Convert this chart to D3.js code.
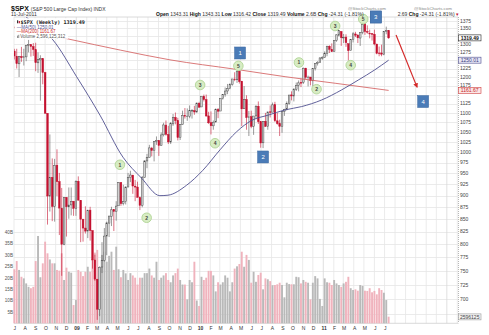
<!DOCTYPE html>
<html><head><meta charset="utf-8">
<script src="https://cdn.jsdelivr.net/npm/d3@7"></script>
<style>body{margin:0;background:#fff}svg{display:block;font-family:"Liberation Sans",Arial,sans-serif}</style>
</head><body><svg id="c" width="489" height="335"></svg>
<script>
// ---------- DATA (weekly $SPX, Jun 30 2008 .. Jul 11 2011) ----------
const firstWeek = "2008-06-30", lastWeek = "2011-07-11";
const open = [
1278,1262,1239,1261,1258,1260,1296,1298,1292,1282,1242,1251,1255,1213,1099,899,941,877,969,931,873,800,896,876,880,888,873,
932,890,850,832,826,869,827,770,735,683,757,769,816,842,856,870,866,878,929,883,887,919,940,946,921,919,896,879,940,979,987,1010,1004,1026,1029,1016,1043,1068,1044,1025,1071,1088,1080,1036,1069,1093,1091,1091,1106,1106,1102,1126,
1116,1145,1136,1092,1074,1066,1076,1109,1105,1139,1150,1160,1167,1178,1194,1192,1217,1188,1111,1136,1088,1090,1065,1092,1118,1077,1023,1078,1065,1103,1102,1122,1079,1072,1064,1104,1110,1126,1149,1146,1165,1176,1184,1185,1226,1199,1200,1189,1225,1240,1244,1257,
1258,1271,1293,1283,1276,1311,1328,1340,1321,1322,1301,1280,1314,1332,1329,1319,1337,1365,1340,1334,1333,1331,1300,1272,1272,1268,1340,1343.31];
const high = [
1285,1285,1263,1291,1285,1297,1313,1300,1303,1304,1274,1265,1255,1215,1099,1044,985,984,1007,951,917,896,897,918,918,888,934,
943,890,851,877,870,876,827,780,735,758,804,832,845,857,876,871,888,930,930,924,920,951,956,946,935,931,898,944,980,996,1018,1013,1027,1039,1029,1049,1074,1080,1066,1076,1097,1101,1087,1071,1106,1113,1112,1120,1110,1119,1128,1130,
1145,1150,1150,1103,1104,1080,1112,1113,1139,1151,1170,1180,1182,1194,1214,1218,1219,1188,1174,1148,1105,1106,1092,1121,1131,1078,1078,1100,1103,1120,1128,1130,1100,1082,1105,1111,1131,1149,1159,1168,1184,1190,1196,1228,1227,1204,1200,1225,1241,1247,1259,1262,
1277,1294,1296,1302,1311,1331,1344,1340,1332,1331,1301,1316,1338,1339,1329,1338,1364,1370,1360,1346,1334,1346,1300,1292,1298,1341,1356,1343.31];
const low = [
1252,1225,1200,1245,1234,1247,1274,1261,1263,1217,1212,1133,1179,1097,839,866,846,845,899,818,741,798,815,851,858,857,857,
889,804,805,821,812,807,754,732,666,672,746,767,779,814,836,826,847,878,878,879,881,919,930,904,888,896,869,875,940,962,987,990,978,1018,991,1016,1039,1041,1020,1020,1066,1070,1029,1030,1069,1085,1079,1086,1085,1095,1102,1115,
1116,1131,1090,1071,1044,1056,1075,1086,1105,1136,1144,1151,1165,1175,1188,1183,1181,1065,1111,1056,1040,1060,1043,1083,1071,1011,1010,1063,1056,1088,1102,1076,1069,1040,1048,1092,1107,1122,1134,1131,1160,1159,1171,1180,1194,1173,1176,1174,1219,1234,1242,1251,
1257,1262,1272,1275,1276,1307,1324,1294,1303,1291,1249,1280,1305,1322,1303,1294,1331,1329,1333,1318,1311,1296,1268,1262,1262,1265,1331,1316.42];
const close = [
1262.9,1239.49,1260.68,1257.76,1260.31,1296.32,1298.2,1292.2,1282.83,1242.31,1251.7,1255.08,1213.27,1099.23,899.22,940.55,876.77,968.75,930.99,873.29,800.03,896.24,876.07,879.73,887.88,872.8,931.8,
890.35,850.12,831.95,825.88,868.6,826.84,770.05,735.09,683.38,756.55,768.54,815.94,842.5,856.56,869.6,866.23,877.52,929.23,882.88,887,919.14,940.09,946.21,921.23,918.9,896.42,879.13,940.38,979.26,987.48,1010.48,1004.09,1026.13,1028.93,1016.4,1042.73,1068.3,1044.38,1025.21,1071.49,1087.68,1079.6,1036.19,1069.3,1093.48,1091.38,1091.49,1105.98,1106.41,1102.47,1126.48,1115.1,
1144.98,1136.03,1091.76,1073.87,1066.19,1075.51,1109.17,1104.49,1138.7,1149.99,1159.9,1166.59,1178.1,1194.37,1192.13,1217.28,1186.69,1110.88,1135.68,1087.69,1089.41,1064.88,1091.6,1117.51,1076.76,1022.58,1077.96,1064.88,1102.66,1101.6,1121.64,1079.25,1071.69,1064.59,1104.51,1109.55,1125.59,1148.67,1146.24,1165.15,1176.19,1183.08,1183.26,1225.85,1199.21,1199.73,1189.4,1224.71,1240.4,1243.91,1256.77,1257.64,
1271.5,1293.24,1283.35,1276.34,1310.87,1329.15,1343.01,1319.88,1321.15,1304.28,1279.21,1313.8,1332.41,1328.17,1319.68,1337.38,1363.61,1340.2,1337.77,1333.27,1331.1,1300.16,1270.98,1271.5,1268.45,1339.67,1343.8,1319.49];
// volume in billions of shares
const volume = [
23.7,27.3,23.4,20.4,19.7,17.5,16,15.4,16,27.3,38.3,20.2,26.3,35.8,30.7,28,26.3,26.3,23.4,23.1,30.7,19,24.4,22.6,22.2,8,10.2,
23.4,22.6,20.7,22.6,24.8,22.6,28,31,32.2,24.8,30,31.4,27,29.6,31.4,23.4,33.6,23.7,20.2,23.4,21.9,19,22,21,20,17,20,20,22,22,24,21,20,27,19,20,21,22,19,18,21,22,24,19,17,17,10.5,19,18,27,10,7.6,
20.4,19,20,23,23,21,14,18,17,18,21,20,14,18,24,25,26,31.4,24.8,30,27.8,17.8,22.6,18.2,21.2,22.2,14.9,19.7,19.3,18.5,16.7,16.8,17.1,17.8,16.8,11.4,17.8,17.2,17.1,17.1,20.4,20.2,17.5,19,18.2,17.8,10.5,17.8,20.7,19.7,10.7,7.6,
19.7,18,17.8,16.8,19,17.5,16.8,16,17.5,18.2,20.4,15.4,14.6,14.9,14.3,16.8,16.4,14.3,14.2,15.4,13.6,14.2,12.7,15.4,14.6,13.4,10.2,2.9];
// moving averages [date, value]
const ma50 = [["2008-07-02",1425],["2008-08-16",1378],["2008-10-24",1313],["2009-01-02",1201],["2009-03-12",1094],["2009-05-19",988],["2009-07-13",939],["2009-09-05",900],["2009-09-29",901],["2009-11-23",923],["2010-01-10",957],["2010-03-02",1006],["2010-04-20",1051],["2010-06-03",1080],["2010-07-22",1094],["2010-09-10",1108],["2010-10-29",1117],["2010-12-27",1135],["2011-02-24",1163],["2011-04-14",1191],["2011-06-02",1221],["2011-07-13",1250.01]];
const ma200 = [["2008-07-02",1354],["2008-12-08",1316],["2009-05-11",1281],["2009-10-05",1251],["2010-04-15",1223],["2010-09-10",1201],["2011-02-05",1182],["2011-07-13",1161.67]];
const priceTicks = [675,700,725,750,775,800,825,850,875,900,925,950,975,1000,1025,1050,1075,1100,1125,1150,1175,1200,1225,1250,1275,1300,1325,1350,1375];
const volTicks = [5,10,15,20,25,30,35,40];
const volTickLabels = ["5B","10B","15B","20B","25B","30B","35B","40B"];
const monthLabels = ["J","A","S","O","N","D","09","F","M","A","M","J","J","A","S","O","N","D","10","F","M","A","M","J","J","A","S","O","N","D","11","F","M","A","M","J","J"];
const waveNotes = [["1","2009-05-10",970],["2","2009-07-28",853],["3","2010-01-02",1177],["4","2010-02-15",1022],["5","2010-04-25",1233],
                   ["1","2010-10-21",1243],["2","2010-12-12",1165],["3","2011-02-05",1358],["4","2011-03-23",1235],["5","2011-04-29",1381]];
const boxNotes = [["1","2010-04-30",1272],["2","2010-07-07",988.5],["3","2011-06-05",1388],["4","2011-10-23",1130.7]];
const arrowNote = [["2011-08-04",1329],["2011-10-05",1171]];
const lastClose = 1319.49, lastMA50 = 1250.01, lastMA200 = 1161.67, lastVolume = 2.596125312;

// ---------- SCALES ----------
const pd = d3.timeParse("%Y-%m-%d");
const weeks = d3.timeMonday.range(pd(firstWeek), d3.timeDay.offset(pd(lastWeek),1));
const L=14, R=458, T=17, B=323.3;
const x = d3.scaleTime().domain([new Date(2008,6,1), new Date(2012,1,3)]).range([L,R]);
const y = d3.scaleLog().domain([660.4,1388]).range([B,T]);
const yv = d3.scaleLinear().domain([0,40]).range([B,232.1]);
const bx = i => x(d3.timeDay.offset(weeks[i],2));

const svg = d3.select("#c");
svg.append("rect").attr("width",489).attr("height",335).attr("fill","#fff");
svg.append("defs").append("clipPath").attr("id","pc").append("rect").attr("x",L).attr("y",T).attr("width",R-L).attr("height",B-T);

// grid
const months = d3.timeMonth.range(new Date(2008,6,1), new Date(2012,1,4));
const g = svg.append("g");
g.selectAll("line.h").data(priceTicks).join("line").attr("x1",L).attr("x2",R)
  .attr("y1",d=>Math.round(y(d))+0.5).attr("y2",d=>Math.round(y(d))+0.5).attr("stroke","#e6e6e6").attr("stroke-width",0.8);
g.selectAll("line.v").data(months).join("line").attr("y1",T).attr("y2",B)
  .attr("x1",d=>x(d)).attr("x2",d=>x(d)).attr("stroke",d=>d.getMonth()===0?"#d8d8d8":"#e6e6e6").attr("stroke-width",0.8);
g.append("line").attr("x1",L).attr("x2",R).attr("y1",T).attr("y2",T).attr("stroke","#d0d0d0").attr("stroke-width",0.8);
g.append("line").attr("x1",L).attr("x2",R).attr("y1",B).attr("y2",B).attr("stroke","#d0d0d0").attr("stroke-width",0.8);
g.append("line").attr("x1",R+0.5).attr("x2",R+0.5).attr("y1",T).attr("y2",B).attr("stroke","#999").attr("stroke-width",0.7).attr("stroke-dasharray","1,1");

// volume
const idx = d3.range(close.length);
const up = i => close[i] >= open[i];
svg.append("g").selectAll("rect").data(idx).join("rect")
  .attr("x",i=>bx(i)-0.95).attr("width",1.9)
  .attr("y",i=>yv(volume[i])).attr("height",i=>B-yv(volume[i]))
  .attr("fill",i=>up(i)?"#b9b9b9":"#f0b3bd");

// candles
const cg = svg.append("g").attr("clip-path","url(#pc)");
cg.selectAll("line").data(idx).join("line")
  .attr("x1",i=>bx(i)).attr("x2",i=>bx(i)).attr("y1",i=>y(high[i])).attr("y2",i=>y(low[i]))
  .attr("stroke",i=>up(i)?"#555":"#c4112f").attr("stroke-width",0.6);
cg.selectAll("rect").data(idx).join("rect")
  .attr("x",i=>bx(i)-0.85).attr("width",1.7)
  .attr("y",i=>y(Math.max(open[i],close[i])))
  .attr("height",i=>Math.max(0.6,Math.abs(y(open[i])-y(close[i]))))
  .attr("fill",i=>up(i)?"#d2d2d2":"#c4112f").attr("stroke",i=>up(i)?"#444":"#c4112f").attr("stroke-width",0.45);

// moving averages
const ml = d3.line().x(d=>x(pd(d[0]))).y(d=>y(d[1])).curve(d3.curveMonotoneX);
const lg = svg.append("g").attr("clip-path","url(#pc)");
lg.append("path").attr("d",ml(ma200)).attr("fill","none").attr("stroke","#d66a6a").attr("stroke-width",0.9);
lg.append("path").attr("d",ml(ma50)).attr("fill","none").attr("stroke","#4f4f8f").attr("stroke-width",0.9);

// legend
const lgd = svg.append("g");
lgd.append("rect").attr("x",15).attr("y",18.3).attr("width",53).attr("height",20.5).attr("fill","#fff");
lgd.append("rect").attr("x",17).attr("y",20.3).attr("width",1.2).attr("height",3).attr("fill","#333");
lgd.append("rect").attr("x",18.7).attr("y",21).attr("width",1.2).attr("height",2.3).attr("fill","#c4112f");
lgd.append("text").attr("x",20.5).attr("y",24).attr("font-family","DejaVu Sans Mono").attr("font-size",5.1).attr("fill","#222").attr("font-weight","bold")
  .text("$SPX (Weekly) "+lastClose.toFixed(2));
lgd.append("text").attr("x",16.7).attr("y",28.6).attr("font-size",4.5).attr("fill","#4f4f8f").text("\u2014MA(50) "+lastMA50.toFixed(2));
lgd.append("text").attr("x",16.7).attr("y",33.3).attr("font-size",4.5).attr("fill","#cc2a2a").text("\u2014MA(200) "+lastMA200.toFixed(2));
lgd.append("rect").attr("x",17).attr("y",35.6).attr("width",0.9).attr("height",2.4).attr("fill","#888");
lgd.append("rect").attr("x",18.3).attr("y",34.8).attr("width",0.9).attr("height",3.2).attr("fill","#888");
lgd.append("text").attr("x",20.3).attr("y",38).attr("font-size",4.5).attr("fill","#555").text("Volume "+d3.format(",")(Math.round(lastVolume*1e9)));

// annotations: wave circles
const an = svg.append("g");
const wn = an.selectAll("g.w").data(waveNotes).join("g").attr("transform",d=>`translate(${x(pd(d[1]))},${y(d[2])})`);
wn.append("circle").attr("r",4.8).attr("fill","#d7ecc3").attr("stroke","#a9d08e").attr("stroke-width",0.8);
wn.append("text").attr("text-anchor","middle").attr("y",1.8).attr("font-size",5).attr("font-weight","bold").attr("fill","#444").text(d=>d[0]);
// arrow
svg.append("defs").append("marker").attr("id","ah").attr("viewBox","0 0 10 10").attr("refX",8).attr("refY",5)
  .attr("markerWidth",4).attr("markerHeight",4).attr("orient","auto")
  .append("path").attr("d","M0,0L10,5L0,10z").attr("fill","#d42a2a");
an.append("line").attr("x1",x(pd(arrowNote[0][0]))).attr("y1",y(arrowNote[0][1]))
  .attr("x2",x(pd(arrowNote[1][0]))).attr("y2",y(arrowNote[1][1]))
  .attr("stroke","#d42a2a").attr("stroke-width",1.2).attr("marker-end","url(#ah)");

// price axis labels (those hidden behind the value tags are skipped)
const tagYs = [y(lastClose), y(lastMA50), y(lastMA200), yv(lastVolume)];
const ax = svg.append("g");
ax.selectAll("text").data(priceTicks.filter(d=>tagYs.every(t=>Math.abs(y(d)-t)>4.6))).join("text").attr("x",460).attr("y",d=>y(d)+1.8)
  .attr("font-size",5).attr("fill","#444").text(d=>d);
function tag(v, yy, stroke, fill, color, bold){
  ax.append("rect").attr("x",458.5).attr("y",yy-3).attr("width",22.5).attr("height",6).attr("fill",fill).attr("stroke",stroke).attr("stroke-width",0.6);
  ax.append("text").attr("x",469.7).attr("y",yy+1.8).attr("text-anchor","middle").attr("font-size",5).attr("fill",color)
    .attr("font-weight",bold?"bold":"normal").text(v);
}
tag(lastMA200.toFixed(2), y(lastMA200), "#d04040", "#fbe6e6", "#c62828", false);
tag(lastMA50.toFixed(2), y(lastMA50), "#4f4f8f", "#e6e6f5", "#3c3c80", false);
tag(lastClose.toFixed(2), y(lastClose), "#222", "#fff", "#111", true);
tag(String(Math.round(lastVolume*1e9)).slice(0,7), yv(lastVolume)-0.5, "#999", "#f3f3f3", "#444", false);

// volume axis labels
svg.append("g").selectAll("text").data(volTicks).join("text").attr("x",13).attr("y",d=>yv(d)+1.8)
  .attr("text-anchor","end").attr("font-size",4.6).attr("fill","#555").text((d,i)=>volTickLabels[i]);

// x axis labels
svg.append("g").selectAll("text").data(monthLabels).join("text")
  .attr("x",(d,i)=>x(months[i])+0.8).attr("y",329.6).attr("text-anchor","middle")
  .attr("font-size",5).attr("font-weight",d=>d.length>1?"bold":"normal").attr("fill","#333").text(d=>d);

// blue boxes
const bn = an.selectAll("g.b").data(boxNotes).join("g").attr("transform",d=>`translate(${x(pd(d[1]))},${y(d[2])})`);
bn.append("rect").attr("x",-5.5).attr("y",-6).attr("width",11).attr("height",12).attr("fill","#4a7bb7").attr("stroke","#3d68a0").attr("stroke-width",0.5);
bn.append("text").attr("text-anchor","middle").attr("y",2.2).attr("font-size",6).attr("fill","#fff").text(d=>d[0]);

// header
const hd = svg.append("g");
const t1 = hd.append("text").attr("x",11).attr("y",10.5);
t1.append("tspan").attr("font-size",7).attr("font-weight","bold").attr("fill","#111").text("$SPX ");
t1.append("tspan").attr("font-size",5).attr("fill","#333").text("(S&P 500 Large Cap Index) INDX");
hd.append("text").attr("x",11).attr("y",16.3).attr("font-size",5).attr("fill","#333").text("11-Jul-2011");
const hdr = [["Open","1343.31"],["High","1343.31"],["Low","1316.42"],["Close","1319.49"],["Volume","2.6B"],["Chg","-24.31 (-1.81%)"]];
const t2 = hd.append("text").attr("x",156).attr("y",16.3).attr("font-size",5).attr("fill","#333");
hdr.forEach((p,i)=>{ t2.append("tspan").attr("font-weight","bold").attr("fill","#111").text((i?"  ":"")+p[0]+" "); t2.append("tspan").text(p[1]); });
const t3 = hd.append("text").attr("x",459).attr("y",16.3).attr("font-size",5).attr("fill","#333").attr("text-anchor","end");
t3.append("tspan").text("2.69  ");
t3.append("tspan").attr("font-weight","bold").attr("fill","#111").text("Chg ");
t3.append("tspan").text("-24.31 (-1.81%) ");
t3.append("tspan").attr("fill","#c4112f").text("\u25BE");
hd.append("text").attr("x",348).attr("y",10).attr("font-size",4.4).attr("fill","#888").text("@StockCharts.com");
hd.append("text").attr("x",414).attr("y",10).attr("font-size",4.4).attr("fill","#888").text("@StockCharts.com");
// redraw box 3 on top of header
const b3 = boxNotes[2];
const g3 = svg.append("g").attr("transform",`translate(${x(pd(b3[1]))},${y(b3[2])})`);
g3.append("rect").attr("x",-5.5).attr("y",-6).attr("width",11).attr("height",12).attr("fill","#4a7bb7").attr("stroke","#3d68a0").attr("stroke-width",0.5);
g3.append("text").attr("text-anchor","middle").attr("y",2.2).attr("font-size",6).attr("fill","#fff").text(b3[0]);
</script></body></html>
